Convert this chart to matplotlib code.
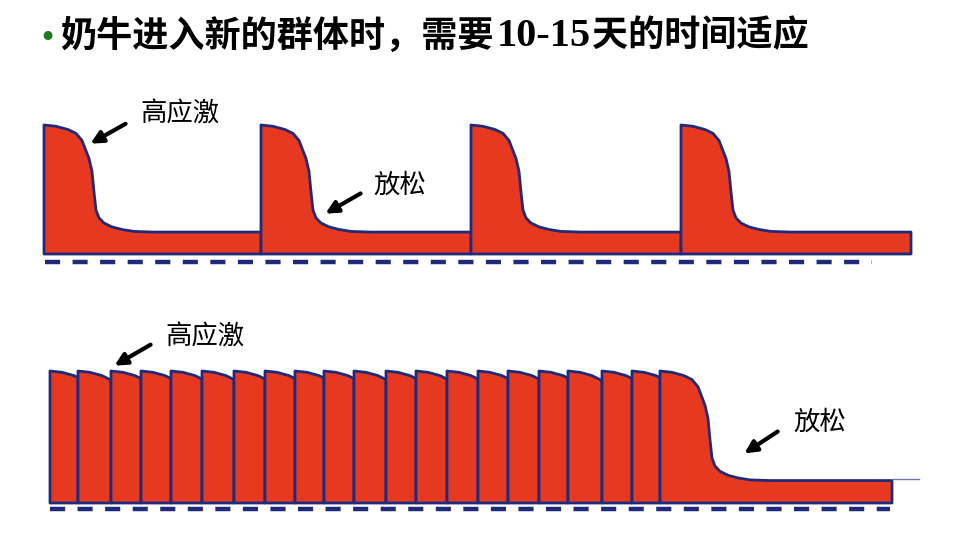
import matplotlib
matplotlib.use("Agg")
import matplotlib.pyplot as plt
from matplotlib.patches import Polygon

plt.rcParams['font.family'] = ['Noto Sans CJK SC', 'DejaVu Sans']

# stress response after regrouping: time offset (px units) vs stress level (0-100)
profile_t = [0, 12, 24, 32, 38, 45, 48, 50, 52, 55, 60, 68, 78, 90, 110]
profile_lvl = [100, 99, 96.5, 93.5, 88, 74, 64, 48, 34, 28, 24, 21, 19, 17.5, 17]

# top: regrouped rarely, cows have time to relax
top_onsets = [44, 261, 471, 681]
top_end = 911
# bottom: regrouped constantly, stress never drops until the last move
bot_onsets = [50, 78, 111, 141, 171, 202, 234, 265, 295, 324, 354, 386,
              416, 447, 478, 508, 539, 568, 602, 632, 660]
bot_end = 892

title_a = "奶牛进入新的群体时，需要"
title_num = "10-15"
title_b = "天的时间适应"

red = "#E6391F"
navy = "#1F2A7C"


def level_at(dt):
    # linear read of the profile, hold last value
    for i in range(1, len(profile_t)):
        if dt <= profile_t[i]:
            t0, t1 = profile_t[i - 1], profile_t[i]
            l0, l1 = profile_lvl[i - 1], profile_lvl[i]
            return l0 + (l1 - l0) * (dt - t0) / (t1 - t0)
    return profile_lvl[-1]


def draw_pulses(ax, onsets, end):
    for i, s in enumerate(onsets):
        e = onsets[i + 1] if i + 1 < len(onsets) else end
        pts = [(s, 0)]
        for t, l in zip(profile_t, profile_lvl):
            if s + t < e:
                pts.append((s + t, l))
        pts.append((e, level_at(e - s)))
        pts.append((e, 0))
        ax.add_patch(Polygon(pts, closed=True, facecolor=red, edgecolor=navy,
                             linewidth=2.0, joinstyle='round'))


arrow = dict(arrowstyle='-|>', lw=3, color='black', mutation_scale=18)

fig = plt.figure(figsize=(9.63, 5.46), dpi=100)

# top panel: pixel rows 90..275, baseline 254, peak 125
ax1 = fig.add_axes([0, 1 - 275 / 546, 1, 185 / 546])
ax1.set_xlim(0, 963)
ax1.set_ylim((254 - 275) / 1.29, (254 - 90) / 1.29)
draw_pulses(ax1, top_onsets, top_end)
ax1.plot([45, 872], [-6.2, -6.2], color=navy, lw=3.2, linestyle=(0, (3.4, 2.8)))
ax1.axis('off')

ax1.annotate("", xy=(88, 84.5), xytext=(128, 102), arrowprops=arrow)
ax1.text(140, 108.5, "高应激", fontsize=19, weight='medium', va='center', ha='left')
ax1.annotate("", xy=(323, 30.2), xytext=(363, 48), arrowprops=arrow)
ax1.text(373, 53.5, "放松", fontsize=19, weight='medium', va='center', ha='left')

# bottom panel: pixel rows 310..530, baseline 503, peak 371
ax2 = fig.add_axes([0, 1 - 530 / 546, 1, 220 / 546])
ax2.set_xlim(0, 963)
ax2.set_ylim((503 - 530) / 1.32, (503 - 310) / 1.32)
draw_pulses(ax2, bot_onsets, bot_end)
ax2.plot([bot_end, 919], [18.2, 18.2], color="#6D7BA8", lw=1)
ax2.plot([50, 890], [-4.5, -4.5], color=navy, lw=3.2, linestyle=(0, (3.4, 2.8)))
ax2.axis('off')

ax2.annotate("", xy=(112, 103), xytext=(153, 121), arrowprops=arrow)
ax2.text(165, 125.8, "高应激", fontsize=19, weight='medium', va='center', ha='left')
ax2.annotate("", xy=(742, 36.4), xytext=(780, 55.3), arrowprops=arrow)
ax2.text(793, 61.4, "放松", fontsize=19, weight='medium', va='center', ha='left')

# title, pieced together so the digits get a serif face
fig.text(38 / 963, 1 - 38 / 546, "•", color="#1E7B22", fontsize=22,
         va='center', ha='left', family='DejaVu Sans')
renderer = fig.canvas.get_renderer()
t1 = fig.text(60 / 963, 1 - 36 / 546, title_a, fontsize=26, weight='bold',
              va='center', ha='left')
bb = t1.get_window_extent(renderer)
t2 = fig.text(bb.x1 / 963 + 3 / 963, 1 - 36 / 546, title_num, fontsize=29,
              weight='bold', va='center', ha='left', family='Liberation Serif')
bb = t2.get_window_extent(renderer)
fig.text(bb.x1 / 963 + 1 / 963, 1 - 36 / 546, title_b, fontsize=26,
         weight='bold', va='center', ha='left')

fig.savefig("out.png", dpi=100)
